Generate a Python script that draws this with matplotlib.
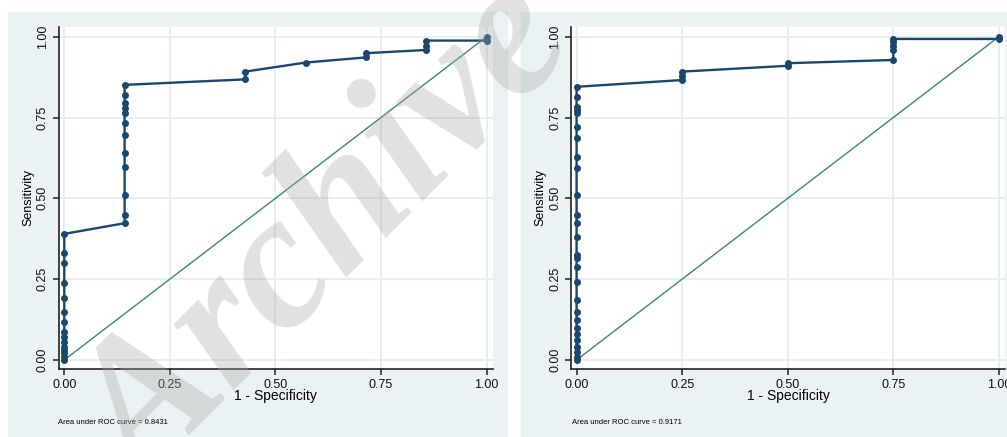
import matplotlib.pyplot as plt
from matplotlib.patches import Rectangle

plt.rcParams['font.family'] = ['Liberation Sans', 'DejaVu Sans']

# ROC points (1 - specificity, sensitivity)
left_fpr = [0] * 15 + [1/7] * 12 + [3/7] * 2 + [4/7] + [5/7] * 2 + [6/7] * 3 + [1] * 2
left_sens = [0, 0.010, 0.021, 0.031, 0.041, 0.057, 0.072, 0.088, 0.118, 0.149,
             0.191, 0.237, 0.299, 0.330, 0.390,
             0.423, 0.449, 0.510, 0.598, 0.639, 0.696, 0.732, 0.764, 0.779,
             0.795, 0.820, 0.851,
             0.868, 0.892,
             0.920,
             0.936, 0.949,
             0.959, 0.972, 0.988,
             0.988, 1.0]

right_fpr = [0] * 27 + [0.25] * 3 + [0.5] * 2 + [0.75] * 5 + [1] * 2
right_sens = [0, 0.009, 0.025, 0.040, 0.062, 0.080, 0.099, 0.124, 0.149, 0.186,
              0.242, 0.289, 0.315, 0.325, 0.381, 0.423, 0.449, 0.510, 0.593,
              0.629, 0.686, 0.722, 0.763, 0.773, 0.783, 0.814, 0.845,
              0.866, 0.879, 0.892,
              0.910, 0.918,
              0.928, 0.960, 0.972, 0.983, 0.993,
              0.993, 1.0]

ticks = [0, 0.25, 0.5, 0.75, 1.0]
tick_labels = ['0.00', '0.25', '0.50', '0.75', '1.00']
auc_left = 0.8431
auc_right = 0.9171

navy = '#1a476f'
ref_green = '#3b8777'
panel_bg = '#eaf2f3'

fig = plt.figure(figsize=(10.07, 4.37), dpi=100)
W, H = 1007, 437

# panel backgrounds
fig.patches.append(Rectangle((8 / W, 0), 499 / W, (H - 12) / H,
                             transform=fig.transFigure, color=panel_bg, zorder=-5))
fig.patches.append(Rectangle((521 / W, 0), 486 / W, (H - 12) / H,
                             transform=fig.transFigure, color=panel_bg, zorder=-5))


def roc_panel(left_px, fpr, sens, auc, note_px):
    ax = fig.add_axes([left_px / W, 68 / H, 434 / W, 342 / H])
    ax.set_facecolor('white')
    ax.plot([0, 1], [0, 1], color=ref_green, lw=1.0, zorder=2)
    ax.plot(fpr, sens, color=navy, lw=1.7, marker='o', ms=4, zorder=3)
    ax.set_xlim(-0.0132, 1.0145)
    ax.set_ylim(-0.028, 1.030)
    ax.set_xticks(ticks)
    ax.set_xticklabels(tick_labels)
    ax.set_yticks(ticks)
    ax.set_yticklabels(tick_labels, rotation=90, va='center')
    ax.grid(True, color='#e5eef1', lw=1.4, zorder=0)
    ax.set_axisbelow(True)
    for s in ['top', 'right']:
        ax.spines[s].set_visible(False)
    for s in ['left', 'bottom']:
        ax.spines[s].set_color('#222222')
        ax.spines[s].set_linewidth(1.2)
    ax.tick_params(axis='both', length=4, width=1.1, color='#222222',
                   labelsize=9, labelcolor='#111111', pad=3)
    ax.set_xlabel('1 - Specificity', fontsize=10, labelpad=-1)
    ax.set_ylabel('Sensitivity', fontsize=9, labelpad=2)
    fig.text(note_px / W, 1 - 423 / H, 'Area under ROC curve = %.4f' % auc,
             fontsize=5.5, va='center', ha='left')
    return ax


roc_panel(58.7, left_fpr, left_sens, auc_left, 58)
roc_panel(571, right_fpr, right_sens, auc_right, 572)

# watermark
fig.text(330 / W, 1 - 238 / H, 'Archive', family='Liberation Serif',
         style='italic', weight='bold', fontsize=138, color='#a8a8a8',
         alpha=0.35, rotation=45, rotation_mode='anchor',
         ha='center', va='center', zorder=10)

fig.savefig('out.png', dpi=100, facecolor='white')
